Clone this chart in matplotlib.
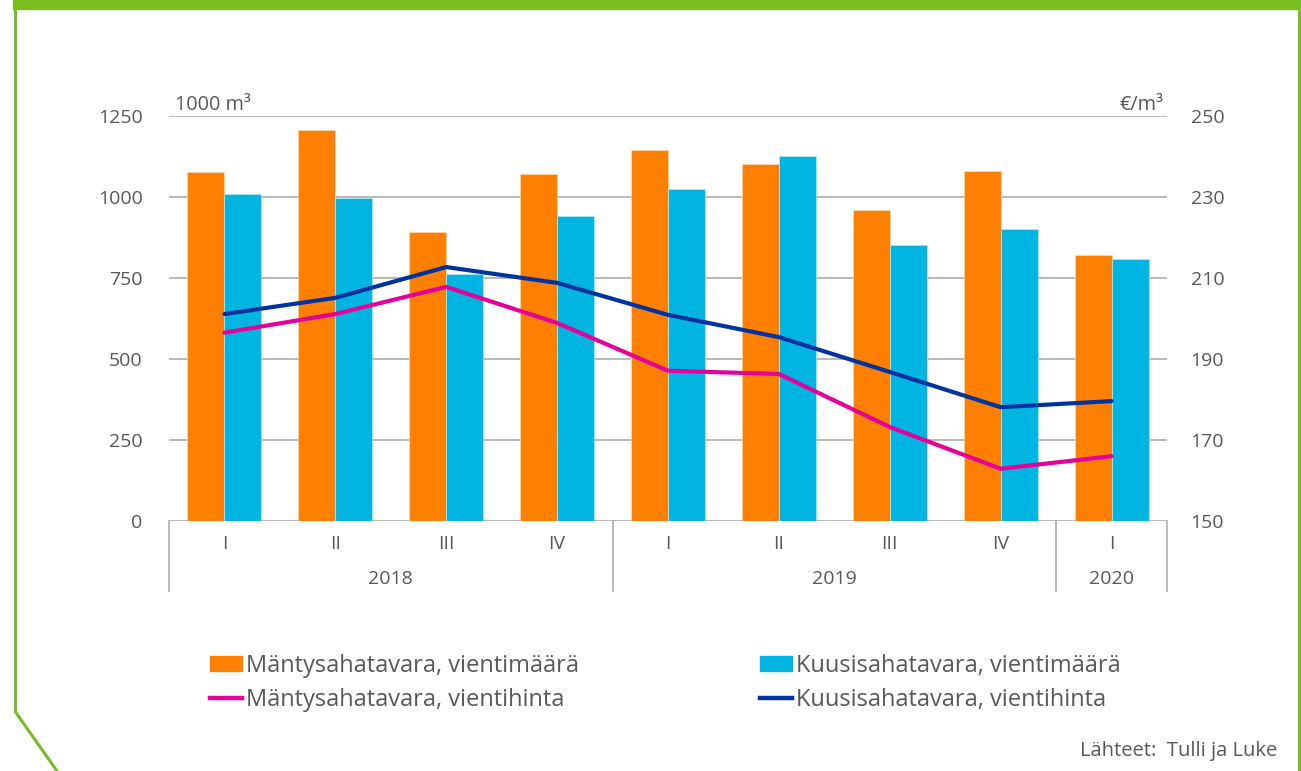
import matplotlib.pyplot as plt
from matplotlib.lines import Line2D
from matplotlib.patches import Rectangle, Patch

# Data
quarters = ["I", "II", "III", "IV", "I", "II", "III", "IV", "I"]
years = ["2018", "2019", "2020"]
year_spans = [(0, 3), (4, 7), (8, 8)]

manty_maara = [1077, 1207, 891, 1071, 1145, 1101, 960, 1080, 821]
kuusi_maara = [1009, 997, 762, 941, 1024, 1127, 852, 901, 809]
manty_hinta = [196.5, 201.1, 207.8, 198.9, 187.1, 186.3, 173.2, 162.9, 166.0]
kuusi_hinta = [201.1, 205.1, 212.7, 208.8, 200.9, 195.4, 186.8, 178.1, 179.6]

ORANGE = "#FF8000"
CYAN = "#00B5E2"
PINK = "#E5009A"
NAVY = "#0033A0"
GREEN = "#78BE20"
GRID = "#A6A6A6"
TXT = "#595959"

plt.rcParams["font.family"] = ["Open Sans", "DejaVu Sans"]

W, H = 1301, 771
fig = plt.figure(figsize=(W / 100, H / 100), dpi=100)
ax = fig.add_axes([169 / W, (H - 521) / H, 998 / W, 405 / H])

x = list(range(len(quarters)))
bw = 1 / 3
ax.bar([i - bw / 2 for i in x], manty_maara, width=bw, color=ORANGE,
       edgecolor="#FFD9B3", linewidth=0.5, zorder=2)
ax.bar([i + bw / 2 for i in x], kuusi_maara, width=bw, color=CYAN,
       edgecolor="#B3E9F6", linewidth=0.5, zorder=2)

ax.set_xlim(-0.5, len(quarters) - 0.5)
ax.set_ylim(0, 1250)
ax.set_yticks(range(0, 1251, 250))
ax.grid(True, axis="y", color=GRID, linewidth=1.1, zorder=0)
ax.set_axisbelow(True)
for s in ax.spines.values():
    s.set_visible(False)
ax.tick_params(axis="y", length=0, pad=19, labelsize=14, labelcolor=TXT)
ax.set_xticks([])

ax2 = ax.twinx()
ax2.plot(x, manty_hinta, color=PINK, linewidth=3, solid_capstyle="round")
ax2.plot(x, kuusi_hinta, color=NAVY, linewidth=3, solid_capstyle="round")
ax2.set_ylim(150, 250)
ax2.set_yticks(range(150, 251, 20))
for s in ax2.spines.values():
    s.set_visible(False)
ax2.tick_params(axis="y", length=0, pad=17, labelsize=14, labelcolor=TXT)

# unit labels
ax.text(6 / 998, 1.002, "1000 m³", transform=ax.transAxes, ha="left",
        va="bottom", fontsize=14.3, color=TXT)
ax.text(1 - 4 / 998, 1.002, "€/m³", transform=ax.transAxes, ha="right",
        va="bottom", fontsize=14.3, color=TXT)

# two-level category axis
tr = ax.get_xaxis_transform()
for i, q in enumerate(quarters):
    ax.text(i, -0.057, q, transform=tr, ha="center", va="center",
            fontsize=14, color=TXT)
for yr, (a, b) in zip(years, year_spans):
    ax.text((a + b) / 2, -0.143, yr, transform=tr, ha="center", va="center",
            fontsize=14, color=TXT)
for sep in [-0.5, 3.5, 7.5, 8.5]:
    ax.plot([sep, sep], [0, -0.173], transform=tr, color=GRID,
            linewidth=1.1, clip_on=False)

# legends
leg_kw = dict(loc="upper left", frameon=False, fontsize=17, handlelength=1.36,
              handleheight=0.6, handletextpad=0.17, labelspacing=0.44,
              borderpad=0, borderaxespad=0, labelcolor=TXT)
h1 = [Patch(color=ORANGE, label="Mäntysahatavara, vientimäärä"),
      Line2D([], [], color=PINK, linewidth=3.2, label="Mäntysahatavara, vientihinta")]
h2 = [Patch(color=CYAN, label="Kuusisahatavara, vientimäärä"),
      Line2D([], [], color=NAVY, linewidth=3.2, label="Kuusisahatavara, vientihinta")]
fig.legend(handles=h1, bbox_to_anchor=(210 / W, 1 - 654 / H), **leg_kw)
fig.legend(handles=h2, bbox_to_anchor=(760 / W, 1 - 654 / H), **leg_kw)

fig.text(1277 / W, 1 - 751 / H, "Lähteet:  Tulli ja Luke", ha="right",
         va="center", fontsize=14.5, color=TXT)

# green frame
fig.add_artist(Rectangle((13 / W, 1 - 9 / H), 1 - 13 / W, 9 / H,
                         transform=fig.transFigure, color=GREEN))
fig.add_artist(Line2D([15.5 / W, 15.5 / W, 57 / W], [1, 1 - 712 / H, 0],
                      transform=fig.transFigure, color=GREEN, linewidth=2.2))
fig.add_artist(Line2D([1298.5 / W, 1298.5 / W], [1, 0],
                      transform=fig.transFigure, color=GREEN, linewidth=2.2))

fig.savefig("out.png", dpi=100)
